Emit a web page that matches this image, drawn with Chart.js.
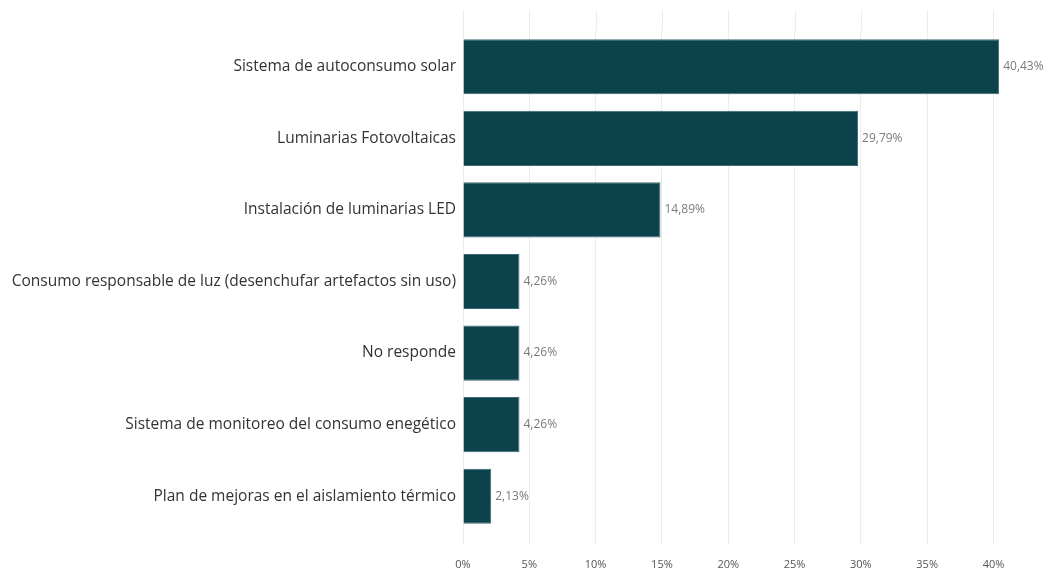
<!DOCTYPE html>
<html>
<head>
<meta charset="utf-8">
<script src="https://cdn.jsdelivr.net/npm/chart.js@4.4.0/dist/chart.umd.min.js"></script>
<style>
html,body{margin:0;padding:0;background:#fff;}
#wrap{width:1056px;height:575px;position:relative;}
</style>
</head>
<body>
<div id="wrap"><canvas id="c" width="1056" height="575"></canvas></div>
<script>
const categories = [
  "Sistema de autoconsumo solar",
  "Luminarias Fotovoltaicas",
  "Instalación de luminarias LED",
  "Consumo responsable de luz (desenchufar artefactos sin uso)",
  "No responde",
  "Sistema de monitoreo del consumo enegético",
  "Plan de mejoras en el aislamiento térmico"
];
const values = [40.43, 29.79, 14.89, 4.26, 4.26, 4.26, 2.13];
const tickValues = [0, 5, 10, 15, 20, 25, 30, 35, 40];

const fmt = v => v.toFixed(2).replace('.', ',') + '%';

const gridExtend = {
  id: 'gridExtend',
  beforeDatasetsDraw(chart) {
    const ctx = chart.ctx;
    const xs = chart.scales.x;
    ctx.save();
    ctx.strokeStyle = '#ececec';
    ctx.lineWidth = 1;
    xs.ticks.forEach(t => {
      const px = Math.round(xs.getPixelForValue(t.value)) + 0.5;
      ctx.beginPath();
      ctx.moveTo(px, 10);
      ctx.lineTo(px, chart.chartArea.top);
      ctx.stroke();
    });
    ctx.restore();
  }
};

const valueLabels = {
  id: 'valueLabels',
  afterDatasetsDraw(chart) {
    const ctx = chart.ctx;
    const meta = chart.getDatasetMeta(0);
    ctx.save();
    ctx.font = '12px "Open Sans", sans-serif';
    ctx.fillStyle = '#7a7a7a';
    ctx.textAlign = 'left';
    ctx.textBaseline = 'middle';
    meta.data.forEach((bar, i) => {
      ctx.fillText(fmt(values[i]), bar.x + 4, bar.y);
    });
    ctx.restore();
  }
};

new Chart(document.getElementById('c'), {
  type: 'bar',
  data: {
    labels: categories,
    datasets: [{
      data: values,
      backgroundColor: '#0b424b',
      borderColor: '#3d6a72',
      borderWidth: 1,
      barPercentage: 0.77,
      categoryPercentage: 1.0
    }]
  },
  options: {
    indexAxis: 'y',
    responsive: false,
    animation: false,
    layout: { padding: { top: 31, right: 36, left: 0, bottom: 0 } },
    plugins: { legend: { display: false }, tooltip: { enabled: false } },
    scales: {
      x: {
        min: 0,
        max: 42,
        afterBuildTicks(scale) { scale.ticks = tickValues.map(v => ({ value: v })); },
        ticks: {
          callback: v => v + '%',
          font: { family: '"Open Sans", sans-serif', size: 11 },
          color: '#555',
          padding: 14
        },
        grid: { color: '#ececec', drawTicks: true, tickLength: 12 },
        border: { display: false },
        afterFit(scale) { scale.height = 43; }
      },
      y: {
        ticks: {
          font: { family: '"Open Sans", sans-serif', size: 15.5 },
          color: '#333',
          padding: 7
        },
        grid: { display: false, drawTicks: false, tickLength: 0 },
        border: { display: false },
        afterFit(scale) { scale.width = 463; }
      }
    }
  },
  plugins: [gridExtend, valueLabels]
});
</script>
</body>
</html>
